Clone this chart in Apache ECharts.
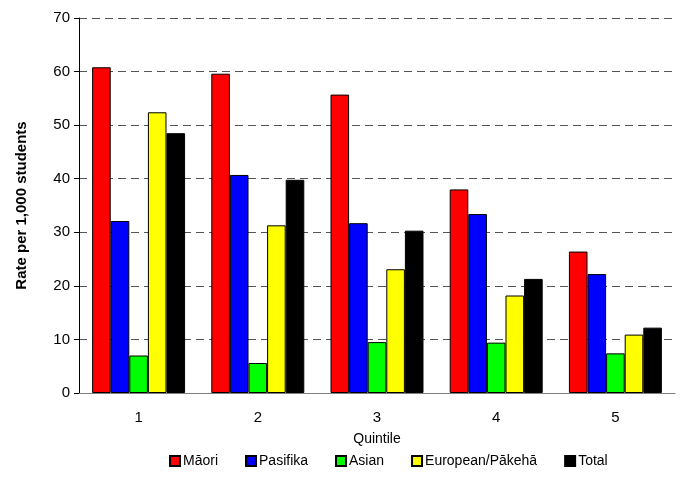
<!DOCTYPE html>
<html>
<head>
<meta charset="utf-8">
<script src="https://cdn.jsdelivr.net/npm/echarts@6/dist/echarts.min.js"></script>
<style>
  html, body { margin: 0; padding: 0; background: #fff; }
  #chart { width: 684px; height: 495px; }
</style>
</head>
<body>
<div id="chart"></div>
<script>
// Quintile categories
const quintiles = ['1', '2', '3', '4', '5'];

// Rate per 1,000 students, by ethnic group
const maori    = [60.8, 59.6, 55.7, 38.0, 26.4];
const pasifika = [32.1, 40.7, 31.7, 33.4, 22.2];
const asian    = [7.0, 5.6, 9.5, 9.4, 7.4];
const european = [52.4, 31.3, 23.1, 18.2, 10.9];
const total    = [48.5, 39.8, 30.3, 21.3, 12.2];

const seriesDefs = [
  { name: 'Māori', data: maori, color: '#ff0000' },
  { name: 'Pasifika', data: pasifika, color: '#0000ff' },
  { name: 'Asian', data: asian, color: '#00ff00' },
  { name: 'European/Pākehā', data: european, color: '#ffff00' },
  { name: 'Total', data: total, color: '#000000' }
];

const font = 'Liberation Sans, Arial, sans-serif';
const chart = echarts.init(document.getElementById('chart'), null, { renderer: 'canvas' });

chart.setOption({
  animation: false,
  backgroundColor: '#ffffff',
  textStyle: { fontFamily: font, color: '#000' },
  grid: { left: 79, right: 9, top: 18, bottom: 102, containLabel: false },
  legend: {
    bottom: 22,
    left: 164,
    itemWidth: 10,
    itemHeight: 10,
    itemGap: 27,
    icon: 'rect',
    textStyle: { fontFamily: font, fontSize: 14, color: '#000', padding: [0, 0, 0, -2] },
    data: seriesDefs.map(s => s.name)
  },
  xAxis: {
    type: 'category',
    data: quintiles,
    name: 'Quintile',
    nameLocation: 'middle',
    nameGap: 39,
    nameTextStyle: { fontFamily: font, fontSize: 14, color: '#000' },
    axisLine: { lineStyle: { color: '#808080', width: 1 } },
    axisTick: { show: false },
    axisLabel: { fontFamily: font, fontSize: 15, color: '#000', margin: 17 }
  },
  yAxis: {
    type: 'value',
    min: 0,
    max: 70,
    interval: 10,
    name: 'Rate per 1,000 students',
    nameLocation: 'middle',
    nameGap: 50,
    nameTextStyle: { fontFamily: font, fontSize: 15, fontWeight: 'bold', color: '#000' },
    axisLine: { show: true, lineStyle: { color: '#000', width: 1 } },
    axisTick: { show: true, length: 5, lineStyle: { color: '#000' } },
    axisLabel: { fontFamily: font, fontSize: 15, color: '#000', margin: 9 },
    splitLine: { show: true, lineStyle: { color: '#555', type: [8, 5], width: 1 } }
  },
  series: seriesDefs.map(s => ({
    name: s.name,
    type: 'bar',
    data: s.data,
    barGap: '0%',
    barCategoryGap: '22%',
    itemStyle: { color: s.color, borderColor: '#000', borderWidth: 1 }
  }))
});
</script>
</body>
</html>
